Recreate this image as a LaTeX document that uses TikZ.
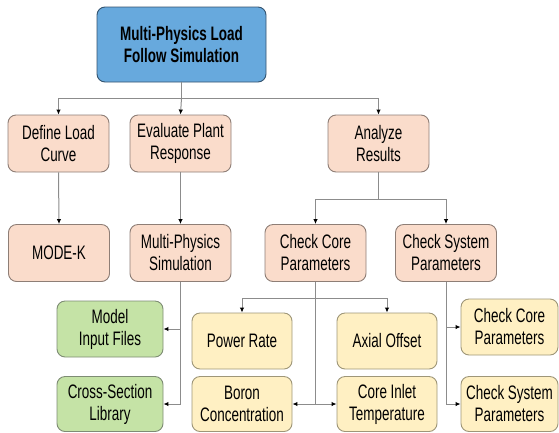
\documentclass[tikz,border=0pt]{standalone}
\usepackage{fontspec}
\setmainfont{Liberation Sans}[FakeStretch=0.69]
\usetikzlibrary{arrows.meta}
\definecolor{topfill}{HTML}{67A9DD}
\definecolor{topdraw}{HTML}{34536F}
\definecolor{pinkfill}{HTML}{FADCCB}
\definecolor{pinkdraw}{HTML}{8E7E76}
\definecolor{greenfill}{HTML}{C5E3A6}
\definecolor{greendraw}{HTML}{7E8C74}
\definecolor{yellowfill}{HTML}{FFF0C3}
\definecolor{yellowdraw}{HTML}{9E9678}
\definecolor{wire}{HTML}{8C8C8C}
\tikzset{
  box/.style={draw, rounded corners=8pt, line width=0.9pt, align=center,
    font=\fontsize{19.5}{22}\selectfont, inner sep=2pt},
  topbox/.style={box, fill=topfill, draw=topdraw, minimum width=169pt,
    minimum height=75pt, font=\fontsize{19.5}{22}\selectfont\bfseries},
  pinkbox/.style={box, fill=pinkfill, draw=pinkdraw, minimum width=101pt, minimum height=57pt},
  greenbox/.style={box, fill=greenfill, draw=greendraw, minimum width=106pt, minimum height=56pt},
  yellowbox/.style={box, fill=yellowfill, draw=yellowdraw, minimum width=100pt, minimum height=56pt},
  wireline/.style={draw=wire, line width=1pt},
  arr/.style={wireline, -{Latex[length=5pt,width=4.5pt,color=black]}},
}
\begin{document}
\begin{tikzpicture}[x=1pt,y=-1pt]
\useasboundingbox (0,0) rectangle (559,432);

% root
\node[topbox] (root) at (181.5,44.5) {Multi-Physics Load\\Follow Simulation};

% first level
\node[pinkbox] (define)   at (58.5,143.5)  {Define Load\\Curve};
\node[pinkbox] (evaluate) at (180.5,143.5) {Evaluate Plant\\Response};
\node[pinkbox] (analyze)  at (378.5,143.5) {Analyze\\Results};

% second level
\node[pinkbox] (modek) at (59,253)    {MODE-K};
\node[pinkbox] (mps)   at (180.5,253) {Multi-Physics\\Simulation};
\node[pinkbox] (ccp)   at (315.5,253) {Check Core\\Parameters};
\node[pinkbox] (csp)   at (446,253)   {Check System\\Parameters};

% simulation inputs
\node[greenbox] (mif) at (110,329) {Model\\Input Files};
\node[greenbox, minimum height=55pt] (csl) at (110,404) {Cross-Section\\Library};

% core parameters
\node[yellowbox] (pr)  at (242,341) {Power Rate};
\node[yellowbox, minimum height=55pt] (bc)  at (242,404) {Boron\\Concentration};
\node[yellowbox] (ao)  at (387,341) {Axial Offset};
\node[yellowbox, minimum height=55pt] (cit) at (387,404) {Core Inlet\\Temperature};

% system parameters
\node[yellowbox, minimum width=97pt] (ycc) at (509.5,327) {Check Core\\Parameters};
\node[yellowbox, minimum width=97pt, minimum height=55pt] (ycs) at (509.5,404) {Check System\\Parameters};

% root fan-out
\coordinate (j1) at (181.5,98);
\draw[wireline] (root.south) -- (j1);
\draw[arr] (j1) -| (define.north);
\draw[arr] (j1) -- (evaluate.north);
\draw[arr] (j1) -| (analyze.north);

\draw[arr] (define.south) -- (modek.north);
\draw[arr] (evaluate.south) -- (mps.north);

% analysis fan-out
\coordinate (j2) at (378.5,199);
\draw[wireline] (analyze.south) -- (j2);
\draw[arr] (j2) -| (ccp.north);
\draw[arr] (j2) -| (csp.north);

% simulation inputs
\coordinate (j3) at (180.5,404);
\draw[wireline] (mps.south) -- (j3);
\draw[arr] (mps.south |- mif.east) -- (mif.east);
\draw[arr] (j3) -- (csl.east);

% core parameter branches
\coordinate (j4) at (315.5,298);
\coordinate (j5) at (315.5,404);
\draw[wireline] (ccp.south) -- (j5);
\draw[arr] (j4) -| (pr.north);
\draw[arr] (j4) -| (ao.north);
\draw[arr] (j5) -- (bc.east);
\draw[arr] (j5) -- (cit.west);

% system parameter branches
\coordinate (j6) at (446,404);
\draw[wireline] (csp.south) -- (j6);
\draw[arr] (csp.south |- ycc.west) -- (ycc.west);
\draw[arr] (j6) -- (ycs.west);
\end{tikzpicture}
\end{document}
